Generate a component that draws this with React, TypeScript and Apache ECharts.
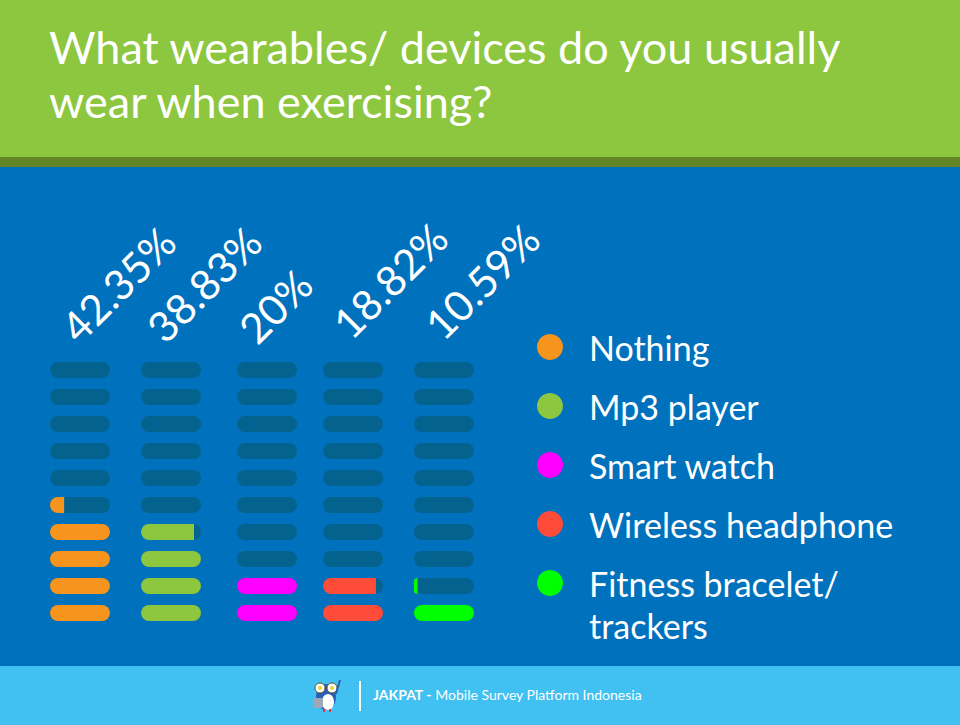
import React, { useEffect, useRef } from "react";
import * as echarts from "echarts";

const categories = ["Nothing", "Mp3 player", "Smart watch", "Wireless headphone", "Fitness bracelet/\ntrackers"];
const percentages = [42.35, 38.83, 20, 18.82, 10.59];
const colors = ["#f7941d", "#8dc63f", "#ff00ff", "#ff4b3a", "#00ff00"];
const rowLabels = ["10%", "20%", "30%", "40%", "50%", "60%", "70%", "80%", "90%", "100%"];
const titleText = "What wearables/ devices do you usually\nwear when exercising?";
const footerBrand = "JAKPAT - ";
const footerText = "Mobile Survey Platform Indonesia";

const FONT = "Lato, 'Noto Sans', sans-serif";
const columnLeft = [50, 141, 237, 323, 414];
const labelOffset = [[33, -13], [28, -13], [24, -12], [32, -17], [33, -16]];

export default function App() {
  const ref = useRef<HTMLDivElement>(null);
  useEffect(() => {
    if (!ref.current) return;
    const chart = echarts.init(ref.current, null, { renderer: "svg" });
    const grids: any[] = [];
    const xAxes: any[] = [];
    const yAxes: any[] = [];
    const series: any[] = [];
    percentages.forEach((v, i) => {
      grids.push({ left: columnLeft[i], top: 356.5, width: 60, height: 270 });
      xAxes.push({ type: "value", gridIndex: i, min: 0, max: 1, show: false });
      yAxes.push({ type: "category", gridIndex: i, data: rowLabels, show: false });
      const units = v / 10;
      series.push({
        type: "bar",
        xAxisIndex: i,
        yAxisIndex: i,
        barWidth: 16,
        silent: true,
        z: 2,
        itemStyle: { color: "#04628f", borderRadius: 8 },
        data: rowLabels.map((_, r) =>
          r === rowLabels.length - 1
            ? {
                value: 1,
                label: {
                  show: true,
                  formatter: `${v}%`,
                  position: labelOffset[i],
                  rotate: 45,
                  align: "left",
                  verticalAlign: "bottom",
                  color: "#ffffff",
                  fontSize: 42,
                  fontFamily: FONT,
                },
              }
            : 1
        ),
      });
      series.push({
        type: "bar",
        name: categories[i],
        xAxisIndex: i,
        yAxisIndex: i,
        barWidth: 16,
        barGap: "-100%",
        silent: true,
        z: 3,
        itemStyle: { color: colors[i] },
        data: rowLabels.map((_, r) => {
          const f = Math.max(0, Math.min(1, units - r));
          return { value: f, itemStyle: { borderRadius: f >= 1 ? 8 : [8, 0, 0, 8] } };
        }),
      });
    });

    const lastName = categories[categories.length - 1];
    const legendBase = {
      orient: "vertical",
      left: 532,
      height: 600,
      icon: "circle",
      itemWidth: 26,
      itemHeight: 26,
      itemGap: 17,
      selectedMode: false,
      formatter: (name: string) => (name === lastName ? `{e| }\n${name}` : name),
      textStyle: {
        color: "#ffffff",
        fontSize: 34,
        lineHeight: 42,
        fontFamily: FONT,
        padding: [0, 0, 0, 21],
        rich: { e: { fontSize: 10, lineHeight: 42 } },
      },
    };

    chart.setOption({
      animation: false,
      backgroundColor: "#0071bc",
      title: {
        text: titleText,
        left: 44,
        top: 15,
        textStyle: { color: "#ffffff", fontSize: 45, lineHeight: 54, fontWeight: "normal", fontFamily: FONT },
        z: 10,
      },
      legend: [
        { ...legendBase, top: 321, data: categories.slice(0, categories.length - 1) },
        { ...legendBase, top: 515, data: [lastName] },
      ],
      grid: grids,
      xAxis: xAxes,
      yAxis: yAxes,
      series,
      graphic: [
        { type: "rect", z: 0, shape: { x: 0, y: 0, width: 960, height: 157 }, style: { fill: "#8dc63f" } },
        { type: "rect", z: 0, shape: { x: 0, y: 157, width: 960, height: 10 }, style: { fill: "#628527" } },
        { type: "rect", z: 0, shape: { x: 0, y: 666, width: 960, height: 59 }, style: { fill: "#40c1f1" } },
        { type: "line", z: 1, shape: { x1: 360, y1: 681, x2: 360, y2: 711 }, style: { stroke: "#ffffff", lineWidth: 2 } },
        {
          type: "text",
          z: 1,
          x: 373,
          y: 694,
          style: {
            text: `{b|${footerBrand}}{n|${footerText}}`,
            verticalAlign: "middle",
            rich: {
              b: { fill: "#ffffff", fontSize: 14, fontWeight: "bold", fontFamily: "Lato, sans-serif" },
              n: { fill: "#ffffff", fontSize: 14, fontFamily: "Lato, sans-serif" },
            },
          },
        },
        {
          type: "group",
          z: 1,
          children: [
            { type: "ellipse", shape: { cx: 326, cy: 697, rx: 10, ry: 13 }, style: { fill: "#2b5fb4" } },
            { type: "ellipse", shape: { cx: 328, cy: 702, rx: 6, ry: 8 }, style: { fill: "#ffffff" } },
            { type: "rect", shape: { x: 313, y: 698, width: 10, height: 10, r: 2 }, style: { fill: "#a0a8b8" } },
            { type: "circle", shape: { cx: 320, cy: 688, r: 5 }, style: { fill: "#ffffff", stroke: "#5a4a20", lineWidth: 1 } },
            { type: "circle", shape: { cx: 332, cy: 688, r: 5 }, style: { fill: "#ffffff", stroke: "#5a4a20", lineWidth: 1 } },
            { type: "circle", shape: { cx: 320, cy: 688, r: 2 }, style: { fill: "#f2d02a" } },
            { type: "circle", shape: { cx: 332, cy: 688, r: 2 }, style: { fill: "#f2d02a" } },
            { type: "rect", shape: { x: 323, y: 709, width: 2, height: 3 }, style: { fill: "#e23a4a" } },
            { type: "rect", shape: { x: 329, y: 709, width: 2, height: 3 }, style: { fill: "#e23a4a" } },
            { type: "line", shape: { x1: 336, y1: 694, x2: 340, y2: 680 }, style: { stroke: "#2b5fb4", lineWidth: 2 } },
          ],
        },
      ],
    });
    return () => chart.dispose();
  }, []);
  return <div ref={ref} style={{ position: "fixed", left: 0, top: 0, width: 960, height: 725 }} />;
}
